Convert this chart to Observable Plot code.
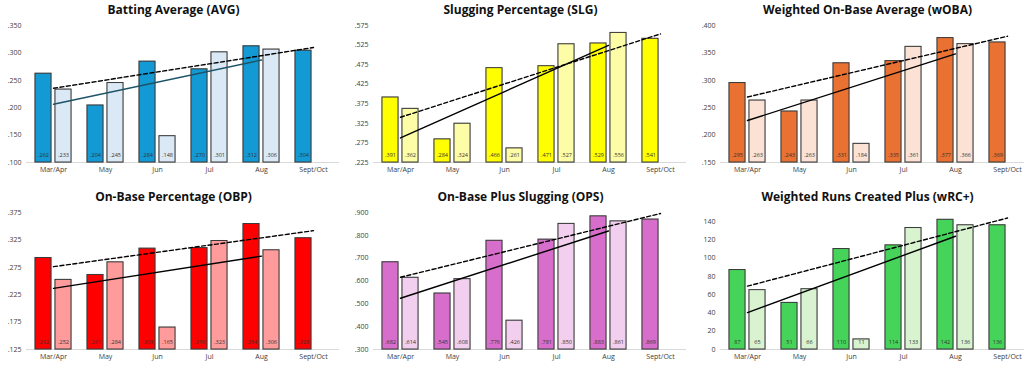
<!DOCTYPE html>
<html><head><meta charset="utf-8">
<script src="https://cdn.jsdelivr.net/npm/d3@7"></script>
<script src="https://cdn.jsdelivr.net/npm/@observablehq/plot@0.6"></script>
<style>
html,body{margin:0;padding:0;background:#fff;overflow:hidden;width:1024px;height:367px;}
#root{position:relative;width:1024px;height:367px;overflow:hidden;}
.panel{position:absolute;width:347px;height:187px;}
.title{position:absolute;left:0;width:347px;top:0;text-align:center;font-family:"Open Sans";font-weight:700;font-size:12px;color:#111;line-height:19px;}
.panel svg{position:absolute;left:0;top:18px;overflow:visible;}
.panel svg g[aria-label=bar] rect{filter:drop-shadow(0.8px 0.8px 0.6px rgba(0,0,0,0.35));}
</style></head><body><div id="root"></div><script>
const months = ["Mar/Apr","May","Jun","Jul","Aug","Sept/Oct"];

const avgDark = [0.262,0.204,0.284,0.270,0.312,0.304];
const avgLight = [0.233,0.245,0.148,0.301,0.306];
const avgTicks = [0.100,0.150,0.200,0.250,0.300,0.350];

const slgDark = [0.391,0.284,0.466,0.471,0.529,0.541];
const slgLight = [0.362,0.324,0.261,0.527,0.556];
const slgTicks = [0.225,0.275,0.325,0.375,0.425,0.475,0.525,0.575];

const wobaDark = [0.295,0.243,0.331,0.335,0.377,0.369];
const wobaLight = [0.263,0.263,0.184,0.361,0.366];
const wobaTicks = [0.150,0.200,0.250,0.300,0.350,0.400];

const obpDark = [0.292,0.261,0.309,0.310,0.354,0.328];
const obpLight = [0.252,0.284,0.165,0.323,0.306];
const obpTicks = [0.125,0.175,0.225,0.275,0.325,0.375];

const opsDark = [0.682,0.545,0.776,0.781,0.883,0.869];
const opsLight = [0.614,0.608,0.426,0.850,0.861];
const opsTicks = [0.300,0.400,0.500,0.600,0.700,0.800,0.900];

const wrcDark = [87,51,110,114,142,136];
const wrcLight = [65,66,11,133,136];
const wrcTicks = [0,20,40,60,80,100,120,140];

const panels = [
  {title:"Batting Average (AVG)", dark:avgDark, light:avgLight, ticks:avgTicks, max:0.350, dec:true, c1:"#1399d3", c2:"#dbe9f6", trend:"#1d5367", col:0, row:0},
  {title:"Slugging Percentage (SLG)", dark:slgDark, light:slgLight, ticks:slgTicks, max:0.575, dec:true, c1:"#ffff00", c2:"#fdfda8", trend:"#000", col:1, row:0},
  {title:"Weighted On-Base Average (wOBA)", dark:wobaDark, light:wobaLight, ticks:wobaTicks, max:0.400, dec:true, c1:"#e97132", c2:"#fbe2d5", trend:"#000", col:2, row:0},
  {title:"On-Base Percentage (OBP)", dark:obpDark, light:obpLight, ticks:obpTicks, max:0.375, dec:true, c1:"#ff0000", c2:"#ff9b9b", trend:"#000", col:0, row:1},
  {title:"On-Base Plus Slugging (OPS)", dark:opsDark, light:opsLight, ticks:opsTicks, max:0.900, dec:true, c1:"#d86ecb", c2:"#f2cfee", trend:"#000", col:1, row:1},
  {title:"Weighted Runs Created Plus (wRC+)", dark:wrcDark, light:wrcLight, ticks:wrcTicks, max:150, dec:false, c1:"#46d35a", c2:"#d9f2d0", trend:"#000", col:2, row:1}
];

function fit(vals){
  const n = vals.length, xs = d3.range(n);
  const mx = d3.mean(xs), my = d3.mean(vals);
  const b = d3.sum(xs, i => (i-mx)*(vals[i]-my)) / d3.sum(xs, i => (i-mx)**2);
  const a = my - b*mx;
  return [{month:months[0], y:a}, {month:months[n-1], y:a + b*(n-1)}];
}

const root = document.getElementById("root");
for (const p of panels) {
  const div = document.createElement("div");
  div.className = "panel";
  div.style.left = (p.col*347) + "px";
  div.style.top = (p.row*187) + "px";
  const t = document.createElement("div");
  t.className = "title";
  t.textContent = p.title;
  div.appendChild(t);
  const ymin = p.ticks[0];
  const fmt = p.dec ? (v => d3.format(".3f")(v).replace(/^0/, "")) : d3.format("d");
  const dark = p.dark.map((v,i) => ({month:months[i], value:v}));
  const light = p.light.map((v,i) => ({month:months[i], value:v}));
  const chart = Plot.plot({
    width:347, height:162, marginLeft:26, marginRight:8, marginTop:7, marginBottom:18,
    style:{fontFamily:"Open Sans", background:"transparent", overflow:"visible"},
    x:{domain:months, padding:0, axis:null, label:null},
    y:{domain:[ymin, p.max], axis:null, label:null},
    marks:[
      Plot.ruleY([ymin], {stroke:"#d9d9d9", strokeWidth:1}),
      Plot.barY(dark, {x:"month", y1:ymin, y2:"value", fill:p.c1, stroke:"#3a3a3a", strokeWidth:1, insetLeft:8, insetRight:28}),
      Plot.barY(light, {x:"month", y1:ymin, y2:"value", fill:p.c2, stroke:"#3a3a3a", strokeWidth:1, insetLeft:28, insetRight:8}),
      Plot.text(dark, {x:"month", y:ymin, text:d => fmt(d.value), dx:-10, dy:-7, fontSize:5.5, fill:"#333"}),
      Plot.text(light, {x:"month", y:ymin, text:d => fmt(d.value), dx:10, dy:-7, fontSize:5.5, fill:"#333"}),
      Plot.line(fit(p.light), {x:"month", y:"y", stroke:p.trend, strokeWidth:1.4}),
      Plot.line(fit(p.dark), {x:"month", y:"y", stroke:"#000", strokeWidth:1.4, strokeDasharray:"4,2.5"}),
      Plot.axisY({ticks:p.ticks, tickFormat:fmt, tickSize:0, tickPadding:5, fontSize:7, color:"#404040", label:null}),
      Plot.axisX({tickSize:0, tickPadding:5, fontSize:7, color:"#404040", label:null})
    ]
  });
  div.appendChild(chart);
  root.appendChild(div);
}
</script></body></html>
